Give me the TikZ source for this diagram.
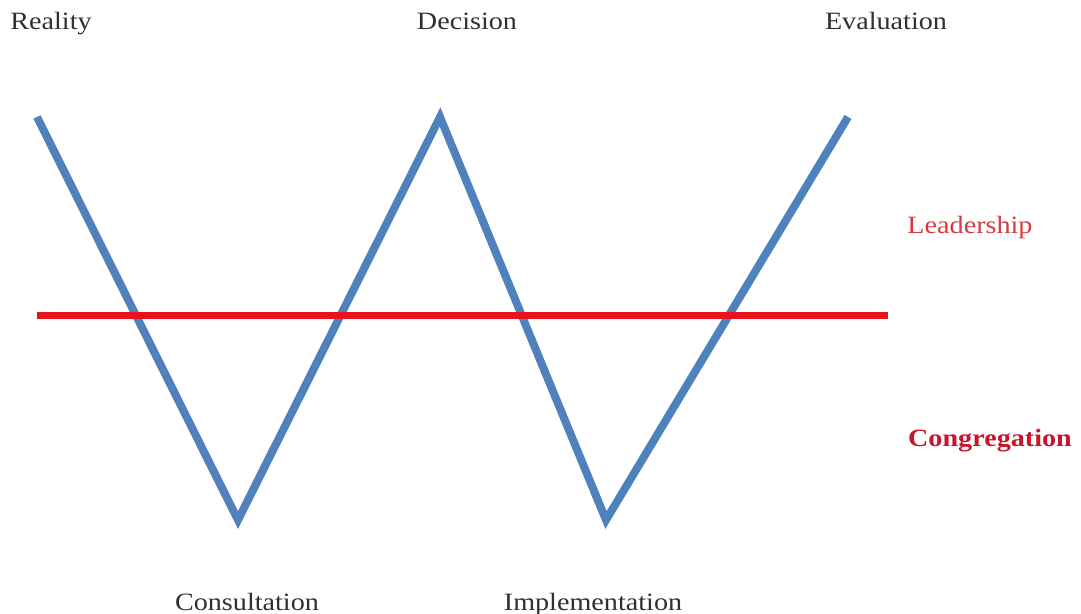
\documentclass[tikz,border=0pt]{standalone}
\usepackage{fontspec}
\setmainfont[FakeStretch=1.13]{Liberation Serif}
\definecolor{wblue}{HTML}{4F81BD}
\definecolor{wred}{HTML}{E8141C}
\definecolor{lred}{HTML}{D83A42}
\definecolor{cred}{HTML}{C8142C}
\definecolor{tgrey}{HTML}{303030}
\begin{document}
\begin{tikzpicture}[x=1bp,y=-1bp,
  lbl/.style={text=tgrey,font=\fontsize{25}{29}\selectfont,inner sep=0pt,anchor=base},
  wline/.style={draw=wblue,line width=8bp,line join=miter,line cap=butt},
  hline/.style={draw=wred,line width=7bp}]
\useasboundingbox (0,0) rectangle (1081,614);
\coordinate (p1) at (37,117);
\coordinate (p2) at (238,520);
\coordinate (p3) at (440,117);
\coordinate (p4) at (606,520);
\coordinate (p5) at (848,117);
\draw[wline] (p1) -- (p2) -- (p3) -- (p4) -- (p5);
\coordinate (h1) at (37,315);
\coordinate (h2) at (888,315);
\draw[hline] (h1) -- (h2);
\node[lbl] (reality) at (51,30) {Reality};
\node[lbl] (decision) at (467,30) {Decision};
\node[lbl] (evaluation) at (886,30) {Evaluation};
\node[lbl,text=lred] (leadership) at (970,234) {Leadership};
\node[lbl,text=cred,font=\fontsize{25}{29}\selectfont\bfseries] (congregation) at (990,446) {Congregation};
\node[lbl] (consultation) at (247,610) {Consultation};
\node[lbl] (implementation) at (593,610) {Implementation};
\end{tikzpicture}
\end{document}
